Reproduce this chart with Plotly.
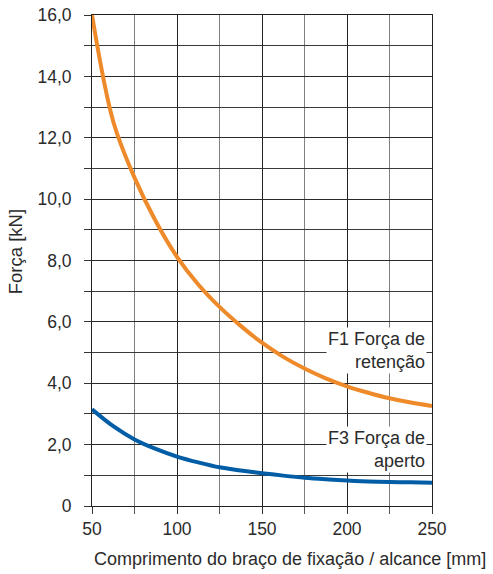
import plotly.graph_objects as go

# values
x_vals = [50, 62.5, 75, 87.5, 100, 112.5, 125, 137.5, 150, 162.5, 175, 187.5, 200, 212.5, 225, 237.5, 250]
f1 = [16.0, 12.53, 10.7, 9.28, 8.12, 7.22, 6.49, 5.87, 5.32, 4.86, 4.48, 4.16, 3.9, 3.69, 3.51, 3.37, 3.26]
f3 = [3.15, 2.6, 2.17, 1.86, 1.61, 1.42, 1.26, 1.16, 1.07, 0.99, 0.92, 0.87, 0.83, 0.8, 0.78, 0.77, 0.76]

x_ticks = [50, 100, 150, 200, 250]
y_ticks = [0, 2, 4, 6, 8, 10, 12, 14, 16]
y_labels = ["0", "2,0", "4,0", "6,0", "8,0", "10,0", "12,0", "14,0", "16,0"]

label_f1 = "F1 Força de<br>retenção"
label_f3 = "F3 Força de<br>aperto"
x_title = "Comprimento do braço de fixação / alcance [mm]"
y_title = "Força [kN]"

txt = "#2b2b2b"
font = "Liberation Sans, Arial, sans-serif"

fig = go.Figure()
fig.add_trace(go.Scatter(x=x_vals, y=f1, mode="lines", line=dict(color="#EF8A2B", width=4, shape="spline"),
                         showlegend=False, hoverinfo="skip"))
fig.add_trace(go.Scatter(x=x_vals, y=f3, mode="lines", line=dict(color="#005DA6", width=4, shape="spline"),
                         showlegend=False, hoverinfo="skip"))

# curve labels with white boxes over the grid
fig.add_annotation(x=247, y=5.08, xref="x", yref="y", text=label_f1, showarrow=False,
                   xanchor="right", yanchor="middle", align="right", bgcolor="white", borderpad=1,
                   font=dict(size=18, color=txt, family=font))
fig.add_annotation(x=247, y=1.83, xref="x", yref="y", text=label_f3, showarrow=False,
                   xanchor="right", yanchor="middle", align="right", bgcolor="white", borderpad=1,
                   font=dict(size=18, color=txt, family=font))

# axis titles (placed by hand, the x title sits right of centre)
fig.add_annotation(x=0.5837, y=-0.108, xref="paper", yref="paper", text=x_title, showarrow=False,
                   xanchor="center", yanchor="middle", font=dict(size=18, color=txt, family=font))
fig.add_annotation(x=-0.2246, y=0.518, xref="paper", yref="paper", text=y_title, showarrow=False,
                   textangle=-90, xanchor="center", yanchor="middle",
                   font=dict(size=18.5, color=txt, family=font))

fig.update_layout(
    width=493, height=574,
    margin=dict(l=92, r=61, t=15, b=68),
    plot_bgcolor="white", paper_bgcolor="white",
    font=dict(family=font, size=17.5, color=txt),
    xaxis=dict(range=[50, 250], tickvals=x_ticks, ticks="outside", ticklen=7, tickcolor="#333",
               showgrid=True, gridcolor="#222", gridwidth=1,
               minor=dict(dtick=25, tick0=50, ticks="outside", ticklen=7, tickcolor="#555",
                          showgrid=True, gridcolor="#808080", gridwidth=1),
               showline=True, linecolor="#222", linewidth=1, mirror=True, zeroline=False,
               automargin=False, ticklabeloverflow="allow", tickfont=dict(size=17.5)),
    yaxis=dict(range=[0, 16], tickvals=y_ticks, ticktext=y_labels, ticks="outside", ticklen=7,
               tickcolor="#333", showgrid=True, gridcolor="#2a2a2a", gridwidth=1,
               minor=dict(dtick=1, tick0=0, ticks="outside", ticklen=7, tickcolor="#333",
                          showgrid=True, gridcolor="#3a3a3a", gridwidth=1),
               showline=True, linecolor="#222", linewidth=1, mirror=True, zeroline=False,
               automargin=False, ticklabelstandoff=9, ticklabeloverflow="allow",
               tickfont=dict(size=17.5)),
)

# drop the default 8px page margin so the figure fills the window
fig.write_html("out.html", config={"displayModeBar": False},
               post_script="document.body.style.margin = '0';")
